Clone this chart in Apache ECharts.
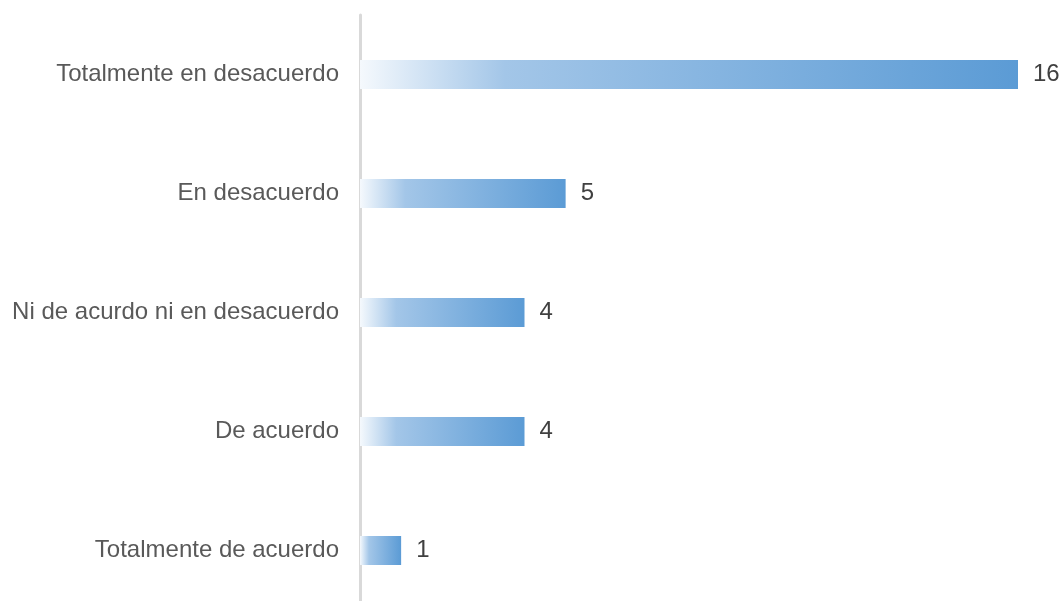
<!DOCTYPE html>
<html>
<head>
<meta charset="utf-8">
<style>
  html, body { margin: 0; padding: 0; background: #ffffff; overflow: hidden; }
  #chart { width: 1063px; height: 611px; }
</style>
<script src="https://cdn.jsdelivr.net/npm/echarts@6/dist/echarts.min.js"></script>
</head>
<body>
<div id="chart"></div>
<script>
// Response categories, listed top to bottom
const categories = [
  'Totalmente en desacuerdo',
  'En desacuerdo',
  'Ni de acurdo ni en desacuerdo',
  'De acuerdo',
  'Totalmente de acuerdo'
];
// Number of answers per category
const counts = [16, 5, 4, 4, 1];

const chart = echarts.init(document.getElementById('chart'));

const barGradient = new echarts.graphic.LinearGradient(0, 0, 1, 0, [
  { offset: 0, color: '#f5f9fd' },
  { offset: 0.22, color: '#a3c6e8' },
  { offset: 1, color: '#5b9bd5' }
]);

const textFont = 'Liberation Sans, Arial, sans-serif';

chart.setOption({
  animation: false,
  backgroundColor: '#ffffff',
  grid: { left: 360, right: 45, top: 15, height: 595, containLabel: false },
  xAxis: {
    type: 'value',
    min: 0,
    max: 16,
    show: false
  },
  yAxis: {
    type: 'category',
    data: categories,
    inverse: true,
    axisLine: { show: true, lineStyle: { color: '#d9d9d9', width: 3 } },
    axisTick: { show: false },
    axisLabel: {
      margin: 21,
      color: '#595959',
      fontSize: 24,
      fontFamily: textFont
    }
  },
  series: [{
    type: 'bar',
    data: counts,
    barWidth: 29,
    itemStyle: { color: barGradient },
    label: {
      show: true,
      position: 'right',
      distance: 15,
      color: '#404040',
      fontSize: 24,
      fontFamily: textFont
    }
  }]
});
</script>
</body>
</html>
